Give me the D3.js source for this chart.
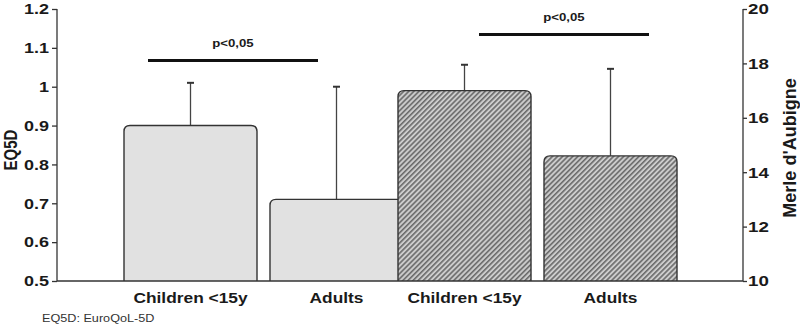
<!DOCTYPE html>
<html><head><meta charset="utf-8">
<script src="https://cdn.jsdelivr.net/npm/d3@7"></script>
<style>body{margin:0;background:#fff}svg{display:block}text{font-family:"Liberation Sans",Arial,sans-serif}</style>
</head><body><svg id="c" width="800" height="331"></svg>
<script>
const groups = ["EQ5D", "Merle"];
const categories = ["Children <15y", "Adults"];
const eq5dMeans = [0.90, 0.71];
const eq5dUpper = [1.01, 1.00];
const merleMeans = [17.0, 14.6];
const merleUpper = [17.95, 17.8];
const leftTicks = [0.5, 0.6, 0.7, 0.8, 0.9, 1.0, 1.1, 1.2];
const rightTicks = [10, 12, 14, 16, 18, 20];
const sigLabels = ["p<0,05", "p<0,05"];

const svg = d3.select("#c");
const plot = {left: 57, right: 743, top: 9, bottom: 281};
const ink = "#1a1a1a";

const yL = d3.scaleLinear().domain([0.5, 1.2]).range([plot.bottom, plot.top]);
const yR = d3.scaleLinear().domain([10, 20]).range([plot.bottom, plot.top]);
const x0 = d3.scaleBand().domain(groups).range([124, 672]).padding(0);
const x1 = d3.scaleBand().domain(categories).range([0, 279]).paddingInner(0.089).paddingOuter(0);

// hatch pattern
const defs = svg.append("defs");
const pat = defs.append("pattern").attr("id", "hatch").attr("patternUnits", "userSpaceOnUse")
  .attr("width", 3.6).attr("height", 3.6).attr("patternTransform", "rotate(45)");
pat.append("rect").attr("width", 3.6).attr("height", 3.6).attr("fill", "#cccccc");
pat.append("rect").attr("width", 1.6).attr("height", 3.6).attr("fill", "#6a6a6a");

const rows = [];
groups.forEach((g, gi) => categories.forEach((c, ci) => {
  rows.push({g, c,
    v: gi === 0 ? eq5dMeans[ci] : merleMeans[ci],
    u: gi === 0 ? eq5dUpper[ci] : merleUpper[ci],
    y: gi === 0 ? yL : yR,
    fill: gi === 0 ? "#e1e1e1" : "url(#hatch)"});
}));

function topRounded(x, y, w, h, r) {
  return `M${x},${y + h}V${y + r}Q${x},${y} ${x + r},${y}H${x + w - r}Q${x + w},${y} ${x + w},${y + r}V${y + h}`;
}

// error bars (behind bars)
const eb = svg.append("g");
rows.forEach(d => {
  const cx = x0(d.g) + x1(d.c) + x1.bandwidth() / 2;
  eb.append("line").attr("x1", cx).attr("x2", cx).attr("y1", d.y(d.v)).attr("y2", d.y(d.u))
    .attr("stroke", "#444").attr("stroke-width", 1.3);
  eb.append("line").attr("x1", cx - 3.5).attr("x2", cx + 3.5).attr("y1", d.y(d.u)).attr("y2", d.y(d.u))
    .attr("stroke", "#333").attr("stroke-width", 2);
});

// bars
rows.forEach(d => {
  const bx = x0(d.g) + x1(d.c), w = x1.bandwidth();
  const top = d.y(d.v), h = plot.bottom - top;
  svg.append("path").attr("d", topRounded(bx, top, w, h, 6) + "Z").attr("fill", d.fill).attr("stroke", "none");
  svg.append("path").attr("d", topRounded(bx, top, w, h, 6)).attr("fill", "none")
    .attr("stroke", "#333").attr("stroke-width", 1.4);
});

// axes
const fmt = d => String(+d.toFixed(2));
const axL = svg.append("g").attr("transform", `translate(${plot.left},0)`)
  .call(d3.axisLeft(yL).tickValues(leftTicks).tickFormat(fmt).tickSize(5).tickPadding(3));
const axR = svg.append("g").attr("transform", `translate(${plot.right},0)`)
  .call(d3.axisRight(yR).tickValues(rightTicks).tickSize(4).tickPadding(2));
[axL, axR].forEach(a => {
  a.select(".domain").attr("stroke", "#333").attr("stroke-width", 1.3)
    .attr("d", `M0,${plot.top}V${plot.bottom}`);
  a.selectAll(".tick line").attr("stroke", "#333").attr("stroke-width", 1.3);
  a.selectAll(".tick text").attr("font-size", 15).attr("font-weight", "bold").attr("fill", ink)
    .style("font-family", '"Liberation Sans",Arial,sans-serif');
});
axL.selectAll(".tick text").attr("x", 0).attr("transform", "translate(-8,0) scale(1.2,1)");
axR.selectAll(".tick text").attr("x", 0).attr("transform", "translate(5,0) scale(1.25,1)");
svg.append("line").attr("x1", plot.left).attr("x2", plot.right).attr("y1", plot.bottom).attr("y2", plot.bottom)
  .attr("stroke", "#333").attr("stroke-width", 1.3);

// category labels
rows.forEach(d => {
  const cx = x0(d.g) + x1(d.c) + x1.bandwidth() / 2;
  svg.append("text").attr("transform", `translate(${cx},303) scale(1.24,1)`)
    .attr("text-anchor", "middle").attr("font-size", 14).attr("font-weight", "bold").attr("fill", ink)
    .text(d.c);
});

// axis titles
svg.append("text").attr("transform", "translate(17,150) rotate(-90) scale(1,1.2)").attr("text-anchor", "middle")
  .attr("font-size", 15).attr("font-weight", "bold").attr("fill", ink).text("EQ5D");
svg.append("text").attr("transform", "translate(796,148) rotate(-90)").attr("text-anchor", "middle")
  .attr("font-size", 18).attr("font-weight", "bold").attr("fill", ink).text("Merle d'Aubigne");

// significance bars
const sig = [
  {x1: x0("EQ5D") + 24, x2: x0("EQ5D") + 194, y: 60.5},
  {x1: x0("Merle") + 81, x2: x0("Merle") + 251, y: 34.5}
];
sig.forEach((s, i) => {
  svg.append("line").attr("x1", s.x1).attr("x2", s.x2).attr("y1", s.y).attr("y2", s.y)
    .attr("stroke", "#111").attr("stroke-width", 2.8);
  svg.append("text").attr("transform", `translate(${(s.x1 + s.x2) / 2},${s.y - 14}) scale(1.2,1)`)
    .attr("text-anchor", "middle")
    .attr("font-size", 11).attr("font-weight", "bold").attr("fill", ink).text(sigLabels[i]);
});

// footnote
svg.append("text").attr("transform", "translate(42,322) scale(1.15,1)").attr("font-size", 11).attr("fill", "#333")
  .text("EQ5D: EuroQoL-5D");
</script></body></html>
